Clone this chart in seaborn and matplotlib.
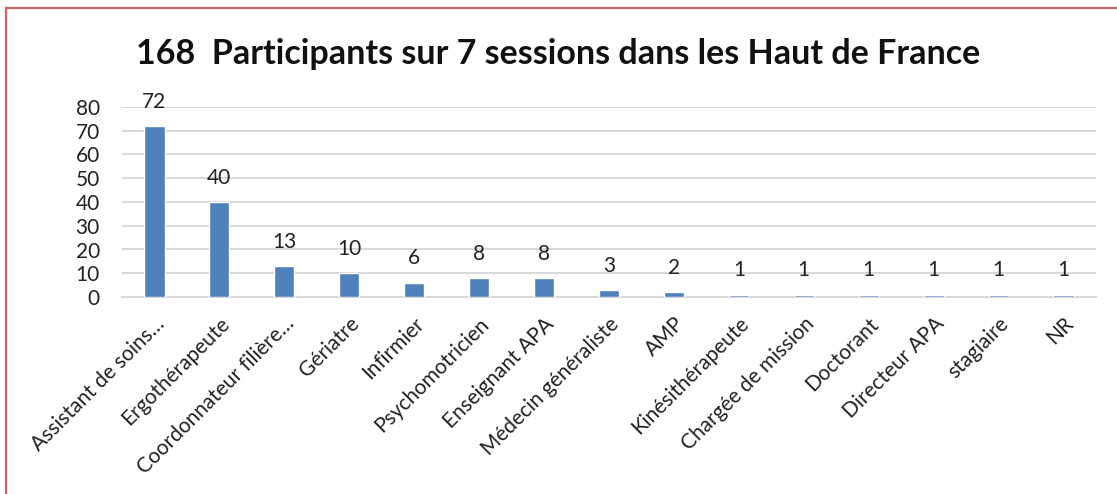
import pandas as pd
import matplotlib.pyplot as plt
import seaborn as sns
from matplotlib.patches import Rectangle

# Données
metiers = ['Assistant de soins…', 'Ergothérapeute', 'Coordonnateur filière…', 'Gériatre',
           'Infirmier', 'Psychomotricien', 'Enseignant APA', 'Médecin généraliste', 'AMP',
           'Kinésithérapeute', 'Chargée de mission', 'Doctorant', 'Directeur APA',
           'stagiaire', 'NR']
effectifs = [72, 40, 13, 10, 6, 8, 8, 3, 2, 1, 1, 1, 1, 1, 1]
yticks = [0, 10, 20, 30, 40, 50, 60, 70, 80]

df = pd.DataFrame({'metier': metiers, 'n': effectifs})

sns.set_theme(style='white')
plt.rcParams['font.family'] = ['Lato', 'DejaVu Sans']

fig = plt.figure(figsize=(11.17, 4.94), dpi=100)
ax = fig.add_axes([122 / 1117, 1 - 297 / 494, (1096 - 122) / 1117, (297 - 107) / 494])

sns.barplot(data=df, x='metier', y='n', color='#4f81bd', width=0.31, saturation=1,
            ax=ax, zorder=3)

# étiquettes de valeur
for i, v in enumerate(effectifs):
    ax.text(i, v + 6, str(v), ha='center', va='bottom', fontsize=15, color='#222222')

ax.set_ylim(0, 80)
ax.set_xlim(-0.5, len(metiers) - 0.5)
ax.set_yticks(yticks)
ax.yaxis.grid(True, color='#d9d9d9', linewidth=1.5, zorder=0)
ax.set_axisbelow(True)
for s in ['top', 'right', 'left']:
    ax.spines[s].set_visible(False)
ax.spines['bottom'].set_color('#d9d9d9')
ax.spines['bottom'].set_linewidth(1.5)
ax.spines['bottom'].set_zorder(0)
ax.tick_params(axis='both', length=0, labelsize=15, colors='#222222')
ax.tick_params(axis='y', pad=16)
ax.tick_params(axis='x', pad=12)
ax.set_xlabel('')
ax.set_ylabel('')
plt.setp(ax.get_xticklabels(), rotation=45, ha='right', rotation_mode='anchor')

fig.text(0.5, 1 - 54 / 494, '168  Participants sur 7 sessions dans les Haut de France',
         ha='center', va='center', fontsize=24.5, fontweight='bold', color='#111111')

# cadre rouge
fig.patches.append(Rectangle((6 / 1117, -0.1), 1.2, 1 - 8 / 494 + 0.1, transform=fig.transFigure,
                             fill=False, edgecolor='#cc6666', linewidth=1.6))

fig.savefig('out.png', dpi=100)
